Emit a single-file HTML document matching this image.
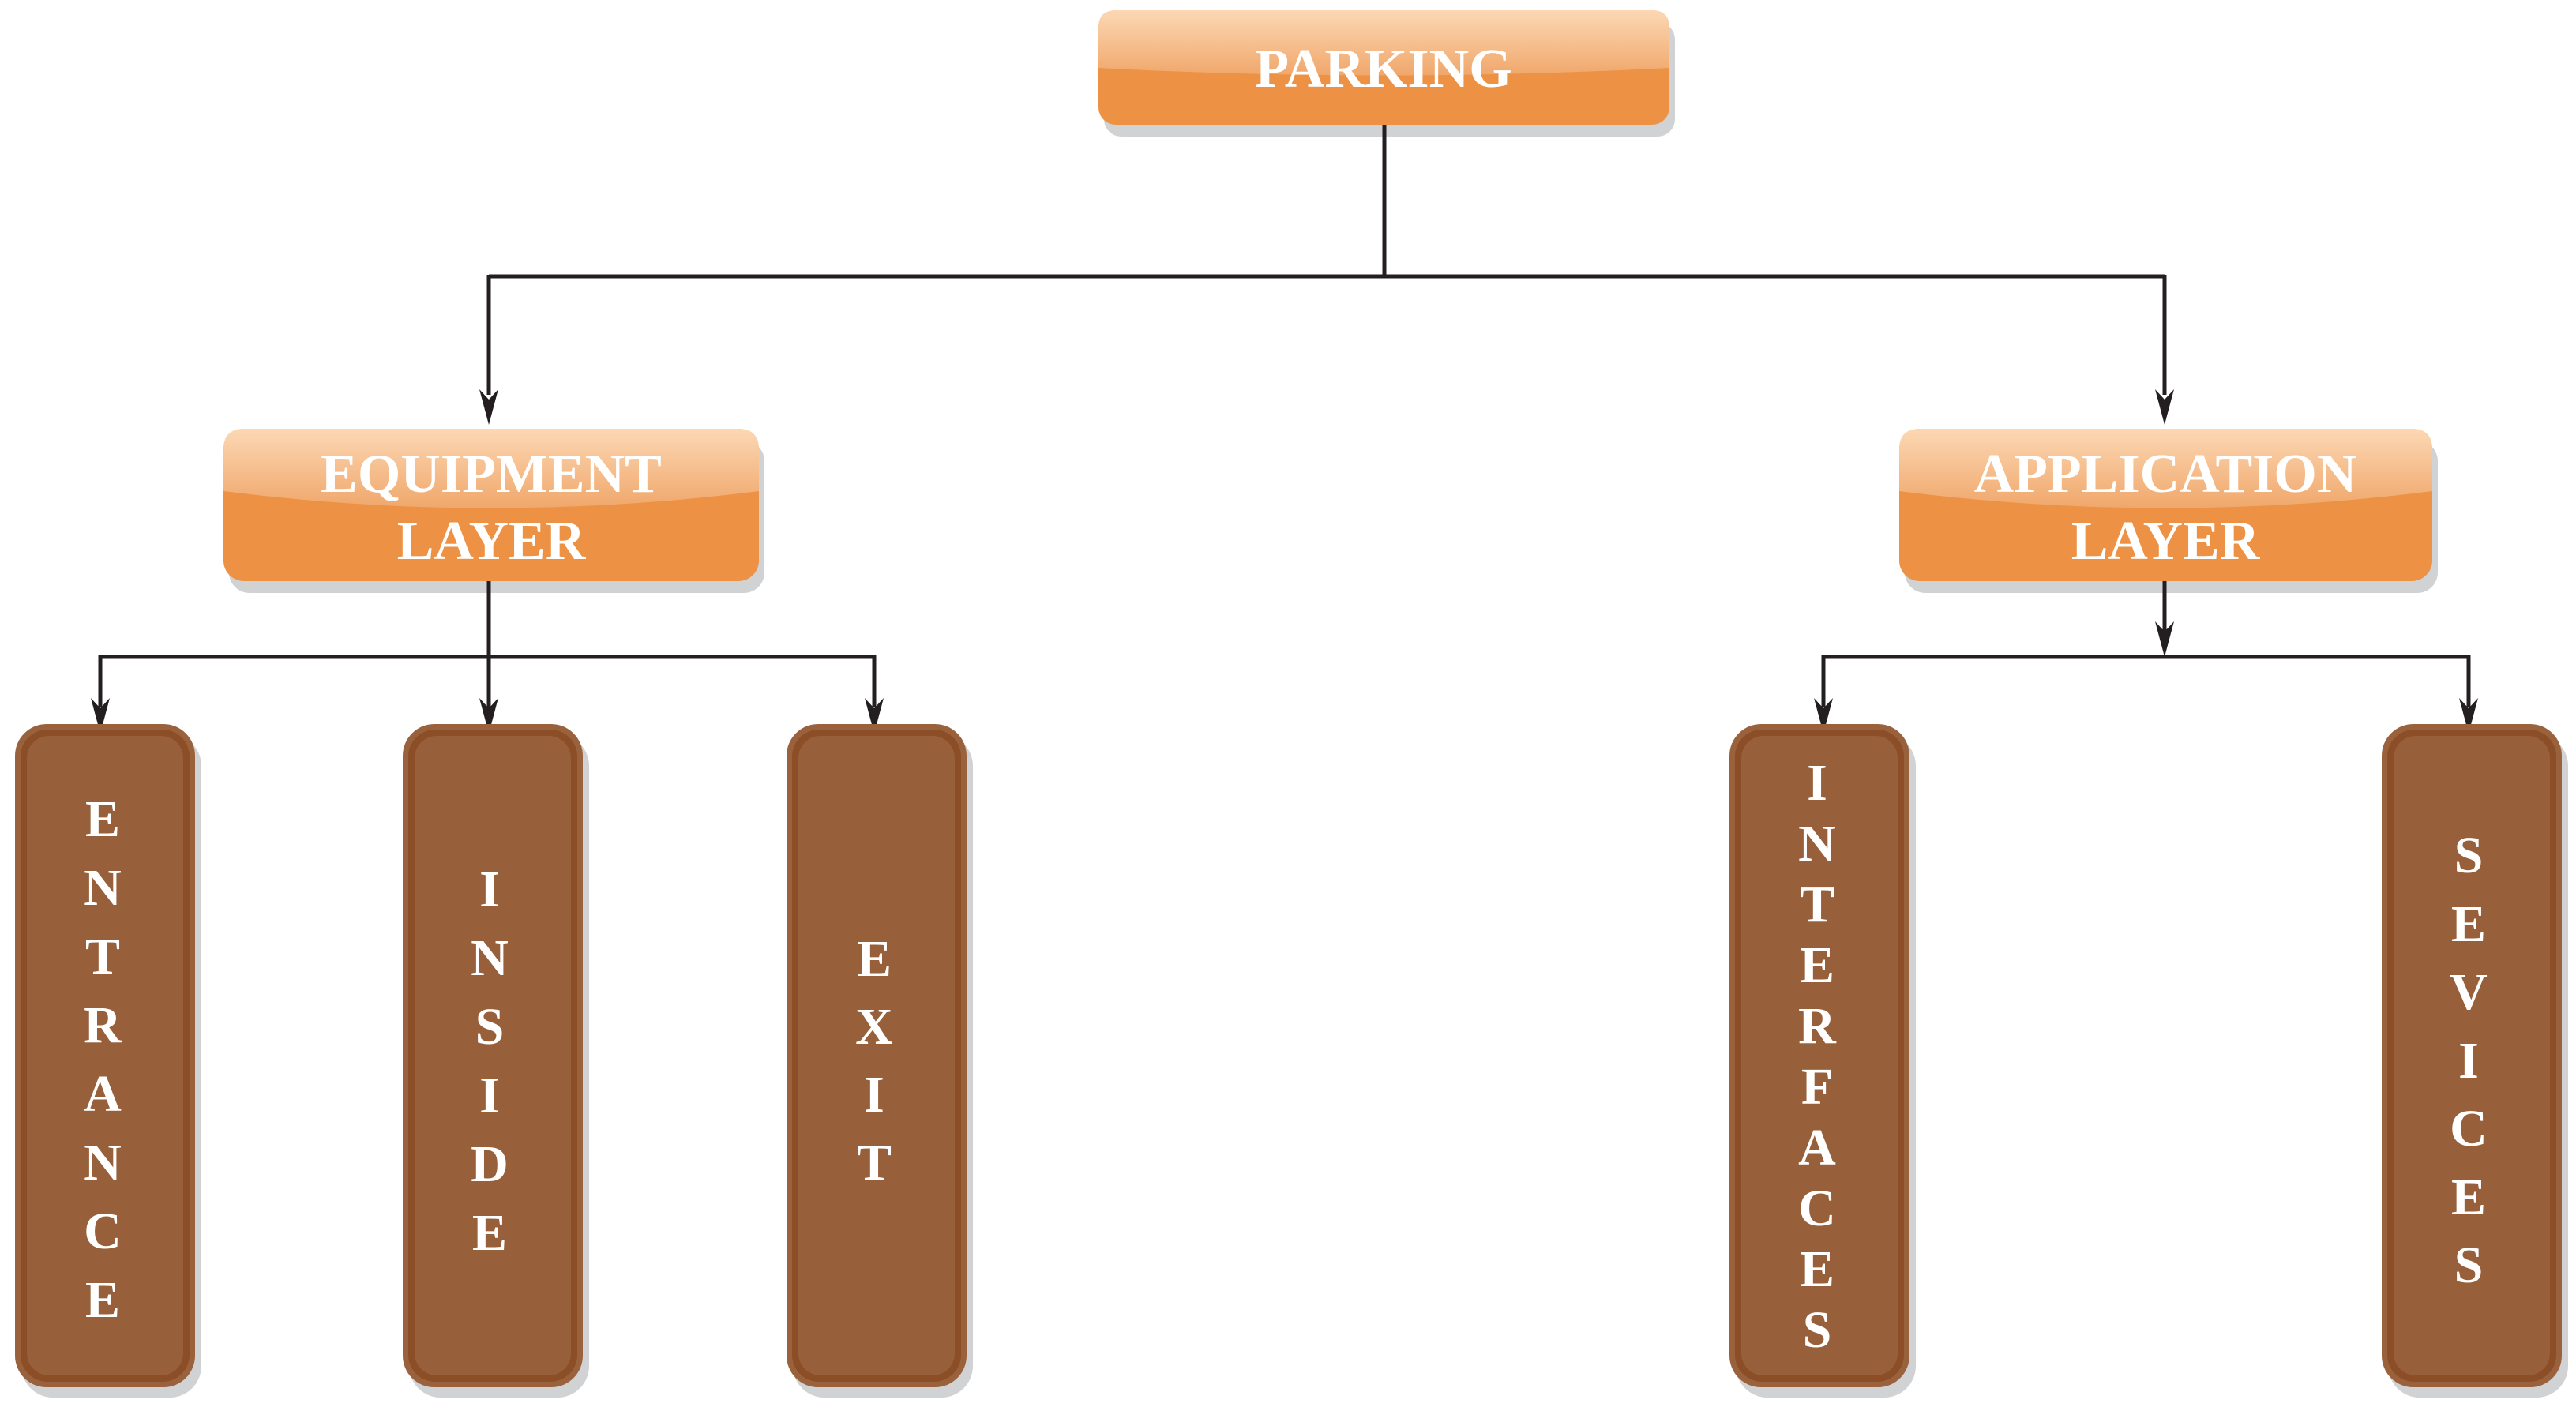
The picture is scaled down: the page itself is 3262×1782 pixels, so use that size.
<!DOCTYPE html>
<html><head><meta charset="utf-8"><style>html,body{margin:0;padding:0;background:#fff}svg{display:block}</style></head>
<body>
<svg width="3262" height="1782" viewBox="0 0 3262 1782" xmlns="http://www.w3.org/2000/svg">
<defs>
<linearGradient id="gl" x1="0" y1="0" x2="0" y2="1">
<stop offset="0" stop-color="#fcd8b4"/><stop offset="1" stop-color="#f0a76b"/>
</linearGradient>
<marker id="ar" viewBox="0 0 24 46" refX="12" refY="46" markerWidth="24" markerHeight="46" markerUnits="userSpaceOnUse" orient="auto-start-reverse">
</marker>
</defs>
<g fill="#d1d2d4">
<rect x="1398" y="28" width="723" height="145" rx="22"/>
<rect x="290" y="558" width="678" height="193" rx="26"/>
<rect x="2412" y="558" width="675" height="193" rx="26"/>
<rect x="27" y="930" width="228" height="840" rx="40"/>
<rect x="518" y="930" width="228" height="840" rx="40"/>
<rect x="1004" y="930" width="228" height="840" rx="40"/>
<rect x="2198" y="930" width="228" height="840" rx="40"/>
<rect x="3024" y="930" width="228" height="840" rx="40"/>
</g>
<!-- orange boxes -->
<g>
<rect x="1391" y="13" width="723" height="145" rx="22" fill="#ed9244"/>
<path d="M1391 86 Q1752 105 2114 86 L2114 35 Q2114 13 2092 13 L1413 13 Q1391 13 1391 35 Z" fill="url(#gl)"/>
<rect x="283" y="543" width="678" height="193" rx="26" fill="#ed9244"/>
<path d="M283 622 Q622 665 961 622 L961 569 Q961 543 935 543 L309 543 Q283 543 283 569 Z" fill="url(#gl)"/>
<rect x="2405" y="543" width="675" height="193" rx="26" fill="#ed9244"/>
<path d="M2405 622 Q2742 665 3080 622 L3080 569 Q3080 543 3054 543 L2431 543 Q2405 543 2405 569 Z" fill="url(#gl)"/>
</g>
<g font-family="'Liberation Serif',serif" font-weight="bold" fill="#fff" text-anchor="middle" font-size="70">
<text x="1752" y="110">PARKING</text>
<text x="622" y="623">EQUIPMENT</text>
<text x="622" y="708">LAYER</text>
<text x="2742" y="623">APPLICATION</text>
<text x="2742" y="708">LAYER</text>
</g>
<!-- connectors -->
<g stroke="#231f20" stroke-width="5" fill="none">
<path d="M1753 158 V350 M619 350 H2741 M619 348 V500 M2741 348 V500"/>
<path d="M619 736 V900 M127 832 H1107 M127 830 V895 M1107 830 V895"/>
<path d="M2741 736 V800 M2309 832 H3126 M2309 830 V895 M3126 830 V895"/>
</g>
<g fill="#231f20">
<path d="M607 493 L619 538 L631 493 L619 506 Z"/>
<path d="M2729 493 L2741 538 L2753 493 L2741 506 Z"/>
<path d="M115 884 L127 929 L139 884 L127 897 Z"/>
<path d="M607 884 L619 929 L631 884 L619 897 Z"/>
<path d="M1095 884 L1107 929 L1119 884 L1107 897 Z"/>
<path d="M2729 787 L2741 832 L2753 787 L2741 800 Z"/>
<path d="M2297 884 L2309 929 L2321 884 L2309 897 Z"/>
<path d="M3114 884 L3126 929 L3138 884 L3126 897 Z"/>
</g>
<!-- brown boxes -->
<g>
<g transform="translate(19,917)"><rect width="228" height="840" rx="40" fill="#9a623c"/><rect x="7" y="7" width="214" height="826" rx="34" fill="#8c4e27"/><rect x="15" y="15" width="198" height="810" rx="28" fill="#975f3a"/></g>
<g transform="translate(510,917)"><rect width="228" height="840" rx="40" fill="#9a623c"/><rect x="7" y="7" width="214" height="826" rx="34" fill="#8c4e27"/><rect x="15" y="15" width="198" height="810" rx="28" fill="#975f3a"/></g>
<g transform="translate(996,917)"><rect width="228" height="840" rx="40" fill="#9a623c"/><rect x="7" y="7" width="214" height="826" rx="34" fill="#8c4e27"/><rect x="15" y="15" width="198" height="810" rx="28" fill="#975f3a"/></g>
<g transform="translate(2190,917)"><rect width="228" height="840" rx="40" fill="#9a623c"/><rect x="7" y="7" width="214" height="826" rx="34" fill="#8c4e27"/><rect x="15" y="15" width="198" height="810" rx="28" fill="#975f3a"/></g>
<g transform="translate(3016,917)"><rect width="228" height="840" rx="40" fill="#9a623c"/><rect x="7" y="7" width="214" height="826" rx="34" fill="#8c4e27"/><rect x="15" y="15" width="198" height="810" rx="28" fill="#975f3a"/></g>
</g>
<g font-family="'Liberation Serif',serif" font-weight="bold" fill="#fff" text-anchor="middle" font-size="66">
<text x="130" y="1059">E</text><text x="130" y="1146">N</text><text x="130" y="1233">T</text><text x="130" y="1320">R</text><text x="130" y="1407">A</text><text x="130" y="1494">N</text><text x="130" y="1581">C</text><text x="130" y="1668">E</text>
<text x="620" y="1148">I</text><text x="620" y="1235">N</text><text x="620" y="1322">S</text><text x="620" y="1409">I</text><text x="620" y="1496">D</text><text x="620" y="1583">E</text>
<text x="1107" y="1236">E</text><text x="1107" y="1322">X</text><text x="1107" y="1408">I</text><text x="1107" y="1494">T</text>
<text x="2301" y="1013">I</text><text x="2301" y="1090">N</text><text x="2301" y="1167">T</text><text x="2301" y="1244">E</text><text x="2301" y="1321">R</text><text x="2301" y="1398">F</text><text x="2301" y="1475">A</text><text x="2301" y="1552">C</text><text x="2301" y="1629">E</text><text x="2301" y="1706">S</text>
<text x="3126" y="1105">S</text><text x="3126" y="1192">E</text><text x="3126" y="1278">V</text><text x="3126" y="1365">I</text><text x="3126" y="1451">C</text><text x="3126" y="1538">E</text><text x="3126" y="1624">S</text>
</g>
</svg>
</body></html>
